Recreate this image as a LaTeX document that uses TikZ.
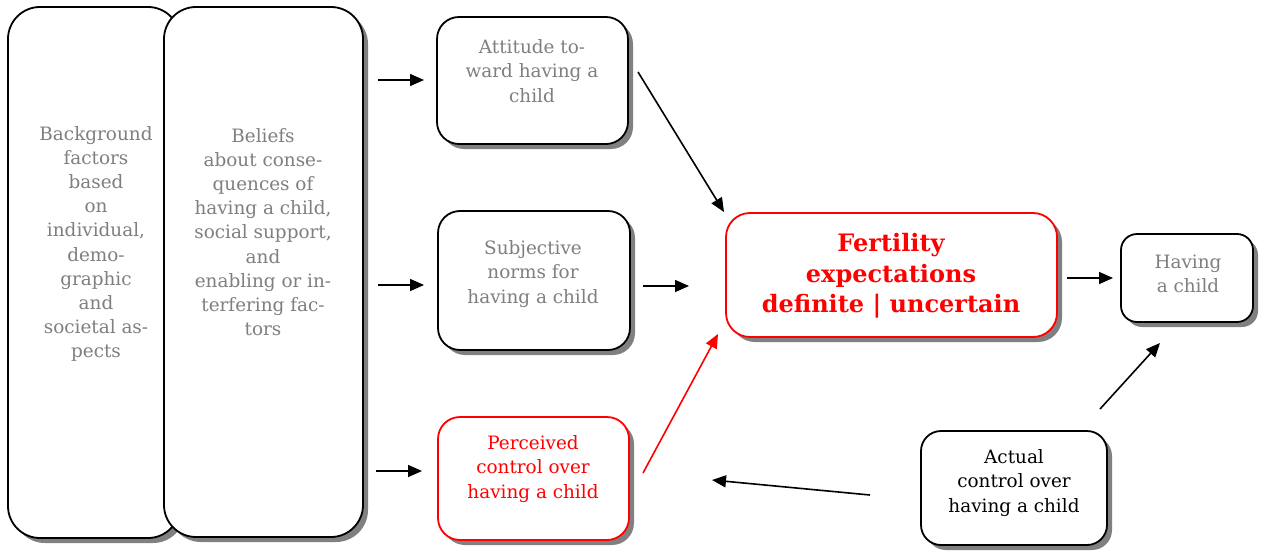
\documentclass[tikz,border=0pt]{standalone}
\usepackage{fontspec}
\setmainfont{DejaVu Serif}
\usetikzlibrary{shadows,arrows.meta}
\definecolor{txtgray}{HTML}{7F7F7F}
\definecolor{myred}{HTML}{FF0000}
\tikzset{
  box/.style={draw=black, line width=1.8pt, fill=white, inner sep=0pt,
    drop shadow={shadow xshift=5pt, shadow yshift=-5pt, fill=black!50, opacity=1}},
  redbox/.style={box, draw=myred},
  txt/.style={align=center, inner sep=0pt, font=\fontsize{18.4}{24.2}\selectfont},
  arr/.style={line width=1.6pt, -{Triangle[length=14pt,width=12pt]}},
}
\begin{document}
\begin{tikzpicture}[x=1pt,y=-1pt]
\useasboundingbox (0,0) rectangle (1263,551);
% tall boxes
\node[box, rounded corners=32pt, minimum width=172pt, minimum height=531pt] (bg) at (94,272.5) {};
\node[box, rounded corners=32pt, minimum width=199pt, minimum height=530pt] (bel) at (263.5,272) {};
\node[txt, text=txtgray] (bgt) at (96,244) {Background\\factors\\based\\on\\individual,\\demo-\\graphic\\and\\societal as-\\pects};
\node[txt, text=txtgray] (belt) at (263,232) {Beliefs\\about conse-\\quences of\\having a child,\\social support,\\and\\enabling or in-\\terfering fac-\\tors};
% middle boxes
\node[box, rounded corners=22pt, minimum width=191pt, minimum height=127pt] (att) at (532.5,80.5) {};
\node[txt, text=txtgray] (attt) at (532,71) {Attitude to-\\ward having a\\child};
\node[box, rounded corners=22pt, minimum width=192pt, minimum height=139pt] (sub) at (534,280.5) {};
\node[txt, text=txtgray] (subt) at (533,274) {Subjective\\norms for\\having a child};
\node[redbox, rounded corners=22pt, minimum width=191pt, minimum height=123pt] (per) at (533.5,478.5) {};
\node[txt, text=myred] (pert) at (533,469) {Perceived\\control over\\having a child};
% right boxes
\node[redbox, rounded corners=24pt, minimum width=331pt, minimum height=124pt] (fer) at (891.5,275) {};
\node[txt, text=myred, font=\bfseries\fontsize{24}{30.5}\selectfont] (fert) at (891,276) {Fertility\\expectations\\definite | uncertain};
\node[box, rounded corners=16pt, minimum width=132pt, minimum height=88pt] (hav) at (1187,278) {};
\node[txt, text=txtgray] (havt) at (1188,274) {Having\\a child};
\node[box, rounded corners=20pt, minimum width=186pt, minimum height=114pt] (act) at (1014,488) {};
\node[txt, text=black] (actt) at (1014,483) {Actual\\control over\\having a child};
% arrow end points
\coordinate (a1s) at (378,80);  \coordinate (a1e) at (424,80);
\coordinate (a2s) at (378,285); \coordinate (a2e) at (424,285);
\coordinate (a3s) at (376,471); \coordinate (a3e) at (422,471);
\coordinate (b1s) at (638,72);  \coordinate (b1e) at (724,212);
\coordinate (b2s) at (643,286); \coordinate (b2e) at (689,286);
\coordinate (b3s) at (643,473); \coordinate (b3e) at (718,334);
\coordinate (c1s) at (1067,278); \coordinate (c1e) at (1113,278);
\coordinate (c2s) at (1100,409); \coordinate (c2e) at (1160,343);
\coordinate (c3s) at (870,495); \coordinate (c3e) at (712,480);
\draw[arr] (a1s) -- (a1e);
\draw[arr] (a2s) -- (a2e);
\draw[arr] (a3s) -- (a3e);
\draw[arr] (b1s) -- (b1e);
\draw[arr] (b2s) -- (b2e);
\draw[arr, draw=myred, fill=myred] (b3s) -- (b3e);
\draw[arr] (c1s) -- (c1e);
\draw[arr] (c2s) -- (c2e);
\draw[arr] (c3s) -- (c3e);
\end{tikzpicture}
\end{document}
